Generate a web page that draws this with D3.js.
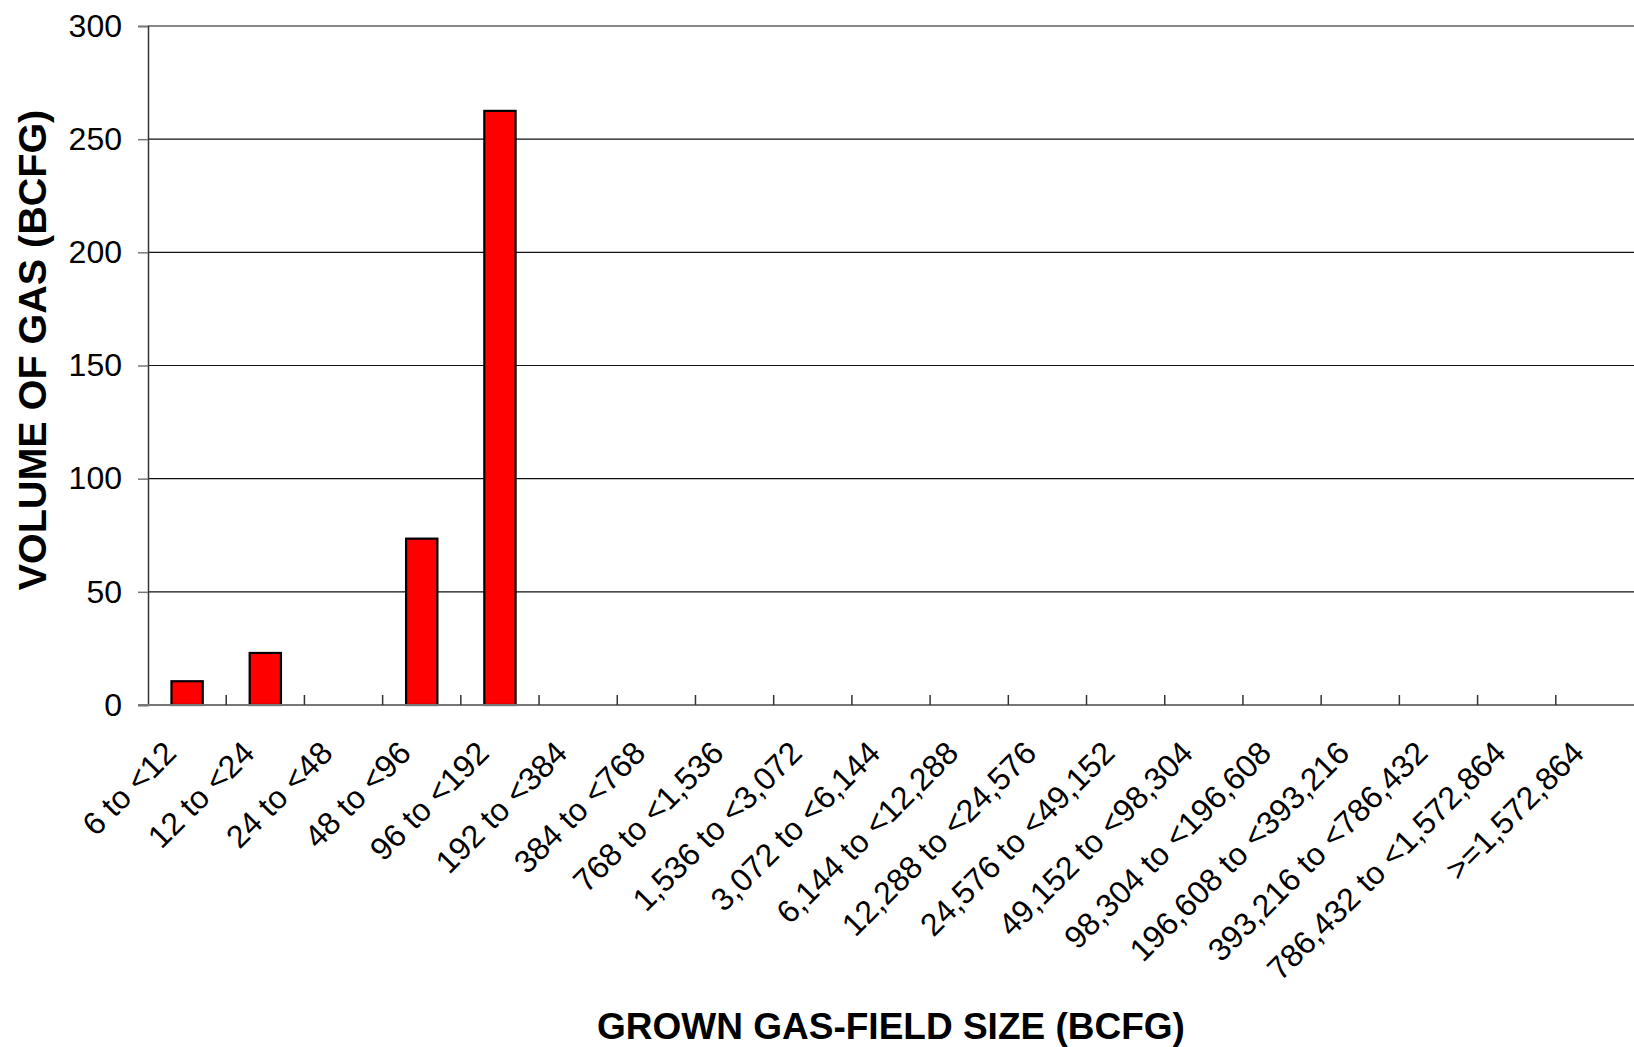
<!DOCTYPE html>
<html lang="en">
    <head>
        <meta charset="UTF-8">
        <title>Grown gas-field size</title>
        <script src="https://d3js.org/d3.v7.min.js"></script>
        <style>
            body { margin: 0; background: #fff; }
            text { font-family: "Liberation Sans", Arial, sans-serif; fill: #000; }
            .axis-title { font-weight: bold; }
        </style>
    </head>

    <body>
        <script>
            // data
            const categories = [
                "6 to <12", "12 to <24", "24 to <48", "48 to <96", "96 to <192",
                "192 to <384", "384 to <768", "768 to <1,536", "1,536 to <3,072",
                "3,072 to <6,144", "6,144 to <12,288", "12,288 to <24,576",
                "24,576 to <49,152", "49,152 to <98,304", "98,304 to <196,608",
                "196,608 to <393,216", "393,216 to <786,432",
                "786,432 to <1,572,864", ">=1,572,864"
            ];
            const volumes = [10.5, 23, 0, 73.5, 262.5, 0, 0, 0, 0, 0, 0, 0, 0, 0, 0, 0, 0, 0, 0];
            const yTicks = [0, 50, 100, 150, 200, 250, 300];

            const width = 1634, height = 1047;
            const margin = {top: 26, right: 0, bottom: 342, left: 148};
            const plotW = width - margin.left - margin.right;
            const plotH = height - margin.top - margin.bottom;

            const svg = d3.select("body").append("svg")
                .attr("width", width)
                .attr("height", height);

            const g = svg.append("g")
                .attr("transform", `translate(${margin.left},${margin.top})`);

            const x = d3.scaleBand()
                .domain(categories)
                .range([0, plotW])
                .padding(0);

            const y = d3.scaleLinear()
                .domain([0, 300])
                .range([plotH, 0]);

            // gridlines
            g.selectAll(".grid")
                .data(yTicks.filter(d => d > 0))
                .enter()
                    .append("line")
                    .attr("x1", 0)
                    .attr("x2", plotW)
                    .attr("y1", d => y(d))
                    .attr("y2", d => y(d))
                    .attr("stroke", d => d === 300 ? "#888" : "#111")
                    .attr("stroke-width", d => d === 300 ? 2 : 1.2);

            // bars, 150% gap width
            const barW = x.bandwidth() * 0.4;
            g.selectAll(".bar")
                .data(volumes.map((v, i) => ({cat: categories[i], v: v})).filter(d => d.v > 0))
                .enter()
                    .append("rect")
                    .attr("x", d => x(d.cat) + (x.bandwidth() - barW) / 2)
                    .attr("y", d => y(d.v))
                    .attr("width", barW)
                    .attr("height", d => y(0) - y(d.v))
                    .attr("fill", "#ff0000")
                    .attr("stroke", "#000")
                    .attr("stroke-width", 2.2);

            // y axis
            const yAxis = d3.axisLeft(y)
                .tickValues(yTicks)
                .tickSize(10)
                .tickPadding(16);
            const gy = g.append("g").call(yAxis);
            gy.select(".domain").attr("stroke", "#333").attr("stroke-width", 1.5);
            gy.selectAll(".tick line").attr("stroke", "#777").attr("stroke-width", 1.5);
            gy.selectAll(".tick text")
                .style("font-size", "32px")
                .style("font-family", "'Liberation Sans', Arial, sans-serif");

            // x axis line with inward ticks at category boundaries
            g.append("line")
                .attr("x1", -10).attr("x2", plotW)
                .attr("y1", y(0)).attr("y2", y(0))
                .attr("stroke", "#777").attr("stroke-width", 2);

            g.selectAll(".xtick")
                .data(categories.slice(1))
                .enter()
                    .append("line")
                    .attr("x1", d => x(d))
                    .attr("x2", d => x(d))
                    .attr("y1", y(0))
                    .attr("y2", y(0) - 10)
                    .attr("stroke", "#333")
                    .attr("stroke-width", 1.5);

            // rotated category labels
            g.selectAll(".xlabel")
                .data(categories)
                .enter()
                    .append("text")
                    .attr("transform", d => `translate(${x(d) + x.bandwidth() / 2 - 9},${y(0) + 50}) rotate(-45)`)
                    .attr("text-anchor", "end")
                    .style("font-size", "32px")
                    .text(d => d);

            // axis titles
            svg.append("text")
                .classed("axis-title", true)
                .attr("x", margin.left + plotW / 2)
                .attr("y", 1039)
                .attr("text-anchor", "middle")
                .style("font-size", "37px")
                .text("GROWN GAS-FIELD SIZE (BCFG)");

            svg.append("text")
                .classed("axis-title", true)
                .attr("transform", "translate(46,350) rotate(-90)")
                .attr("text-anchor", "middle")
                .style("font-size", "39.5px")
                .text("VOLUME OF GAS (BCFG)");
        </script>
    </body>
</html>
